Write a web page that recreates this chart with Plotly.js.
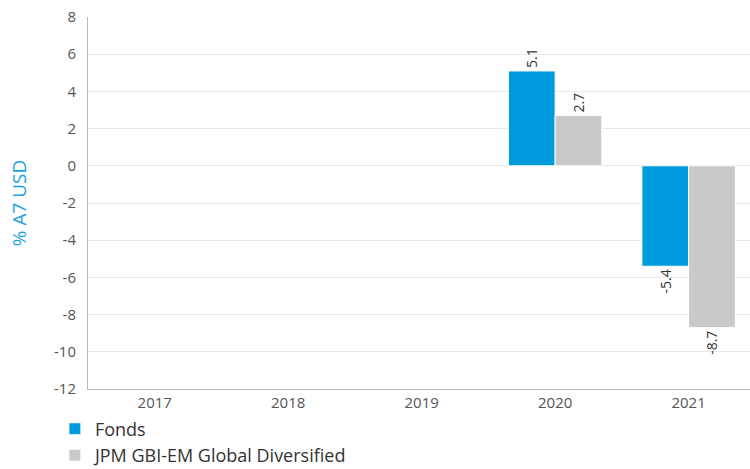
<!DOCTYPE html>
<html>
<head>
<meta charset="utf-8">
<script src="https://cdn.plot.ly/plotly-3.0.1.min.js"></script>
<style>html,body{margin:0;padding:0;background:#fff;}#chart{width:750px;height:469px;}</style>
</head>
<body>
<div id="chart"></div>
<script>
var categories = ["2017", "2018", "2019", "2020", "2021"];
var fondsValues = [null, null, null, 5.1, -5.4];
var benchValues = [null, null, null, 2.7, -8.7];
var seriesNames = ["Fonds", "JPM GBI-EM Global Diversified"];
var yTicks = [8, 6, 4, 2, 0, -2, -4, -6, -8, -10, -12];

function labels(arr) { return arr.map(function (v) { return v === null ? "" : v.toFixed(1); }); }

var FONT = "'Open Sans', 'Noto Sans', sans-serif";
var common = {
  type: "bar",
  textposition: "outside",
  textangle: -90,
  cliponaxis: false,
  textfont: {family: FONT, size: 14, color: "#333"},
  hoverinfo: "skip"
};
var traces = [
  Object.assign({}, common, {x: categories, y: fondsValues, name: seriesNames[0], text: labels(fondsValues), marker: {color: "#009ADE", line: {color: "#fff", width: 1}}}),
  Object.assign({}, common, {x: categories, y: benchValues, name: seriesNames[1], text: labels(benchValues), marker: {color: "#C9C9C9", line: {color: "#fff", width: 1}}})
];

var layout = {
  width: 750, height: 469,
  margin: {l: 88, r: 0, t: 17, b: 80, autoexpand: false},
  paper_bgcolor: "#fff", plot_bgcolor: "#fff",
  font: {family: FONT, color: "#555"},
  barmode: "group",
  bargap: 0.3,
  bargroupgap: 0,
  showlegend: true,
  legend: {orientation: "v", x: -0.05, xanchor: "left", y: -0.058, yanchor: "top", font: {size: 18, color: "#333"}, tracegroupgap: 0, itemwidth: 30, traceorder: "normal"},
  xaxis: {type: "category", range: [-0.5, 4.46], showgrid: false, showline: true, linecolor: "#bbb", linewidth: 1, ticks: "", tickfont: {size: 15, color: "#555"}, fixedrange: true},
  yaxis: {range: [-12, 8], tickvals: yTicks, ticktext: yTicks.map(String), showgrid: true, gridcolor: "#e8e8e8", gridwidth: 1, zeroline: false, showline: true, linecolor: "#bbb", linewidth: 1, ticks: "", tickfont: {size: 15, color: "#555"}, ticklabelstandoff: 8,
    title: {text: "% A7 USD", font: {size: 19, color: "#1A9FE0"}, standoff: 22}}
};
Plotly.newPlot("chart", traces, layout, {displayModeBar: false, staticPlot: true});
</script>
</body>
</html>
